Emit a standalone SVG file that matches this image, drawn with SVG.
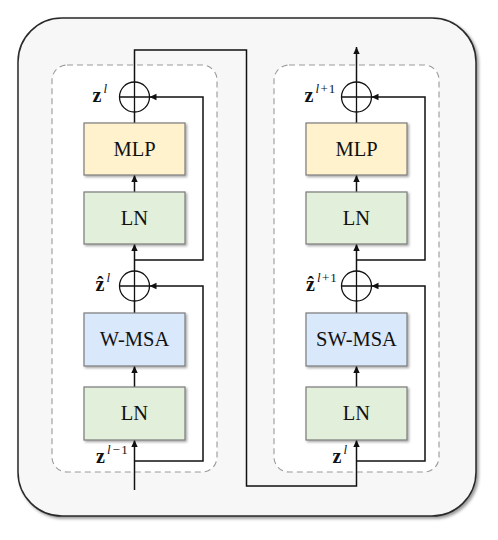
<svg xmlns="http://www.w3.org/2000/svg" width="498" height="540" viewBox="0 0 498 540">
<defs>
<filter id="sh" x="-10%" y="-10%" width="130%" height="130%"><feDropShadow dx="1.5" dy="1.5" stdDeviation="1" flood-color="#000" flood-opacity="0.35"/></filter>
<filter id="sh2" x="-5%" y="-5%" width="110%" height="110%"><feDropShadow dx="2" dy="2" stdDeviation="1.5" flood-color="#000" flood-opacity="0.4"/></filter>
<marker id="ar" markerWidth="8" markerHeight="8" refX="7" refY="4" orient="auto" markerUnits="userSpaceOnUse"><path d="M0,0.8 L7,4 L0,7.2 Z" fill="#111"/></marker>
<style>
.box{stroke:#7a7a7a;stroke-width:1.2;filter:url(#sh)}
.mlp{fill:#fff2cc}.ln{fill:#e2efda}.msa{fill:#dae8fc}
.bt{font-family:"Liberation Serif","Times New Roman",serif;font-size:20.5px;fill:#111;text-anchor:middle}
.dash{fill:#fff;stroke:#9a9a9a;stroke-width:1.1;stroke-dasharray:6 4}
.ln1{fill:none;stroke:#111;stroke-width:1.5}
.arr{marker-end:url(#ar)}
.circ{fill:none;stroke:#111;stroke-width:1.3}
.mz{font-family:"Liberation Serif","DejaVu Serif",serif;font-weight:bold;font-size:20px;fill:#111}
.sup{font-family:"Liberation Serif","DejaVu Serif",serif;font-style:italic;font-weight:normal;font-size:13px;fill:#111}
.supn{font-family:"Liberation Serif","DejaVu Serif",serif;font-style:normal;font-weight:normal;font-size:13px;fill:#111}
</style>
</defs>
<rect x="18" y="18" width="458" height="498" rx="44" fill="#f7f7f7" stroke="#2a2a2a" stroke-width="1.5" filter="url(#sh2)"/>
<g id="block-left">
<rect class="dash" x="52" y="65" width="165" height="407" rx="15"/>
</g>
<g id="block-right">
<rect class="dash" x="274" y="65" width="165" height="407" rx="15"/>
</g>
<g id="connectors">
<path class="ln1 arr" d="M134.5 490 V440"/>
<path class="ln1 arr" d="M134.5 461 H203 V286 H149.5"/>
<path class="ln1 arr" d="M134.5 387 V366"/>
<path class="ln1" d="M134.5 313 V301"/>
<path class="ln1 arr" d="M134.5 271 V244"/>
<path class="ln1 arr" d="M134.5 260 H203 V97 H149.5"/>
<path class="ln1 arr" d="M134.5 192 V175"/>
<path class="ln1" d="M134.5 123 V112"/>
<path class="ln1 arr" d="M134.5 82 V50 H246.5 V486 H356.5 V440"/>
<path class="ln1 arr" d="M356.5 461 H425 V286 H371.5"/>
<path class="ln1 arr" d="M356.5 387 V366"/>
<path class="ln1" d="M356.5 313 V301"/>
<path class="ln1 arr" d="M356.5 271 V244"/>
<path class="ln1 arr" d="M356.5 260 H425 V97 H371.5"/>
<path class="ln1 arr" d="M356.5 192 V175"/>
<path class="ln1" d="M356.5 123 V112"/>
<path class="ln1 arr" d="M356.5 82 V47"/>
</g>
<g id="mlp-left"><rect class="box mlp" x="84" y="123" width="101" height="52"/><text class="bt" x="134.5" y="156">MLP</text></g>
<g id="ln-left-top"><rect class="box ln" x="84" y="192" width="101" height="52"/><text class="bt" x="134.5" y="225">LN</text></g>
<g id="wmsa"><rect class="box msa" x="84" y="313" width="101" height="53"/><text class="bt" x="134.5" y="346">W-MSA</text></g>
<g id="ln-left-bottom"><rect class="box ln" x="84" y="387" width="101" height="53"/><text class="bt" x="134.5" y="420">LN</text></g>
<g id="mlp-right"><rect class="box mlp" x="306" y="123" width="101" height="52"/><text class="bt" x="356.5" y="156">MLP</text></g>
<g id="ln-right-top"><rect class="box ln" x="306" y="192" width="101" height="52"/><text class="bt" x="356.5" y="225">LN</text></g>
<g id="swmsa"><rect class="box msa" x="306" y="313" width="101" height="53"/><text class="bt" x="356.5" y="346">SW-MSA</text></g>
<g id="ln-right-bottom"><rect class="box ln" x="306" y="387" width="101" height="53"/><text class="bt" x="356.5" y="420">LN</text></g>
<g id="add-left-top"><circle class="circ" cx="134.5" cy="97" r="15"/><path class="circ" d="M134.5 82 V112 M119.5 97 H149.5"/></g>
<g id="add-left-mid"><circle class="circ" cx="134.5" cy="286" r="15"/><path class="circ" d="M134.5 271 V301 M119.5 286 H149.5"/></g>
<g id="add-right-top"><circle class="circ" cx="356.5" cy="97" r="15"/><path class="circ" d="M356.5 82 V112 M341.5 97 H371.5"/></g>
<g id="add-right-mid"><circle class="circ" cx="356.5" cy="286" r="15"/><path class="circ" d="M356.5 271 V301 M341.5 286 H371.5"/></g>
<g id="labels">
<text class="mz" x="92.5" y="102">z<tspan class="sup" dx="2" dy="-9">l</tspan></text>
<text class="mz" x="95.5" y="291">ẑ<tspan class="sup" dx="2" dy="-9">l</tspan></text>
<text class="mz" x="96" y="463">z<tspan class="sup" dx="2" dy="-9">l</tspan><tspan class="supn" dx="2">−</tspan><tspan class="supn" dx="1.5">1</tspan></text>
<text class="mz" x="304.5" y="102">z<tspan class="sup" dx="2" dy="-9">l</tspan><tspan class="supn" dx="1.5">+</tspan><tspan class="supn" dx="1">1</tspan></text>
<text class="mz" x="306" y="291">ẑ<tspan class="sup" dx="2" dy="-9">l</tspan><tspan class="supn" dx="1.5">+</tspan><tspan class="supn" dx="1">1</tspan></text>
<text class="mz" x="332.5" y="463">z<tspan class="sup" dx="2" dy="-9">l</tspan></text>
</g>
</svg>
